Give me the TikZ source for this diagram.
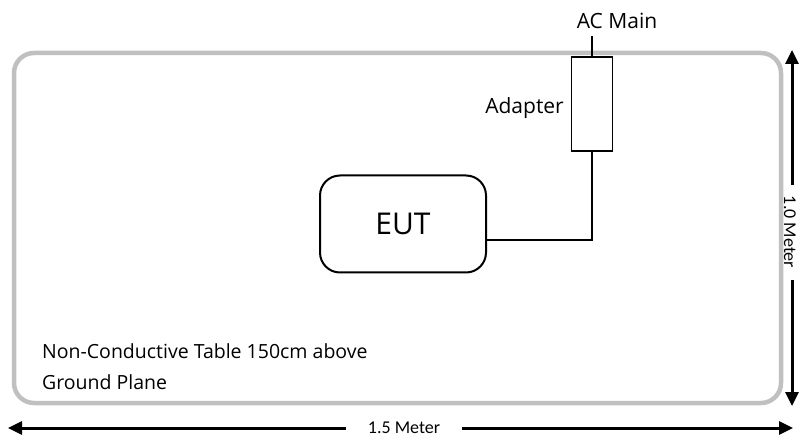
\documentclass[tikz,border=0pt]{standalone}
\usepackage{fontspec}
\setmainfont{Open Sans}
\newfontfamily\dimfont{Carlito}
\usetikzlibrary{arrows.meta}
\definecolor{tablegray}{RGB}{192,192,192}
\begin{document}
\begin{tikzpicture}[x=1pt,y=-1pt,
  lbl/.style={inner sep=0pt, font=\fontsize{21}{24}\selectfont},
  wire/.style={draw=black, line width=1.4pt},
  dimarrow/.style={draw=black, line width=3pt, -{Triangle[length=14pt,width=13pt]}},
  dimlbl/.style={inner sep=0pt, font=\dimfont\fontsize{18}{21}\selectfont}]
\useasboundingbox (0,0) rectangle (800,438);
% table
\draw[tablegray, line width=4.5pt, rounded corners=20pt] (14,53) rectangle (781,403);
% EUT
\node[draw=black, line width=2pt, rounded corners=20pt, minimum width=166pt, minimum height=97pt, inner sep=0pt,
  font=\fontsize{30}{34}\selectfont] (eut) at (403,224) {EUT};
% adapter
\node[draw=black, line width=1.4pt, minimum width=41pt, minimum height=94pt, inner sep=0pt] (adapter) at (592,104) {};
\coordinate (acm) at (592,36);
\node[lbl, anchor=center] (actext) at (617,21) {AC Main};
\node[lbl, anchor=east] (adtext) at (564,108) {Adapter};
\draw[wire] (acm) -- (adapter.north);
\draw[wire] (adapter.south) |- (eut.east |- 0,240);
% bottom text
\node[lbl, anchor=west, font=\fontsize{19.5}{22}\selectfont] (t1) at (42,351) {Non-Conductive Table 150cm above};
\node[lbl, anchor=west, font=\fontsize{19.5}{22}\selectfont] (t2) at (42,382) {Ground Plane};
% horizontal dimension
\node[dimlbl] (hl) at (404,428) {1.5 Meter};
\coordinate (hL) at (8,428);
\coordinate (hR) at (793,428);
\draw[dimarrow] (hl.west) ++(-22,0) -- (hL);
\draw[dimarrow] (hl.east) ++(22,0) -- (hR);
% vertical dimension
\node[dimlbl, rotate=-90] (vl) at (790,232) {1.0 Meter};
\coordinate (vT) at (792,50);
\coordinate (vB) at (792,406);
\draw[dimarrow] (792,185) -- (vT);
\draw[dimarrow] (792,280) -- (vB);
\end{tikzpicture}
\end{document}
